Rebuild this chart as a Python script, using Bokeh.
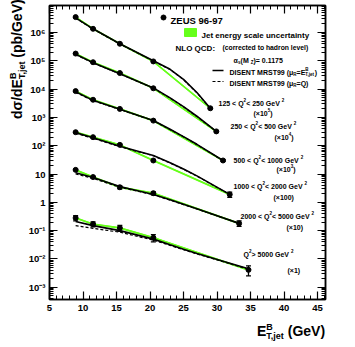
import math
import numpy as np
from bokeh.plotting import figure
from bokeh.layouts import column
from bokeh.models import (Range1d, LinearAxis, LogAxis, Label, CustomJSTickFormatter, Div,
                          SingleIntervalTicker, LogTicker, ColumnDataSource, Whisker, TeeHead)
from bokeh.embed import file_html
from bokeh.resources import INLINE

# ---------------- data ----------------
q2_low = [125, 250, 500, 1000, 2000, 5000]
q2_high = [250, 500, 1000, 2000, 5000, None]
scale_exp = [5, 4, 3, 2, 1, 0]

et_s1 = [8.9, 11.5, 15.5, 20.5, 29.0]
et_s2 = [8.9, 11.5, 15.5, 20.5, 29.9]
et_s3 = [8.9, 11.5, 15.5, 20.5, 30.9]
et_s4 = [8.9, 11.5, 15.5, 20.5, 31.9]
et_s5 = [8.9, 11.5, 15.5, 20.5, 33.3]
et_s6 = [8.9, 11.5, 15.5, 20.5, 34.7]

xsec_s1 = [35.0, 13.5, 4.0, 0.95, 0.021]
xsec_s2 = [18.0, 8.9, 3.7, 1.07, 0.032]
xsec_s3 = [8.5, 4.2, 2.0, 0.77, 0.030]
xsec_s4 = [3.0, 2.0, 1.07, 0.30, 0.019]
xsec_s5 = [1.4, 0.78, 0.34, 0.21, 0.018]
xsec_s6 = [0.28, 0.17, 0.124, 0.056, 0.0041]

err_s1 = [0.7, 0.3, 0.1, 0.03, 0.001]
err_s2 = [0.4, 0.2, 0.1, 0.03, 0.002]
err_s3 = [0.2, 0.1, 0.05, 0.02, 0.002]
err_s4 = [0.08, 0.06, 0.04, 0.015, 0.004]
err_s5 = [0.06, 0.05, 0.04, 0.025, 0.004]
err_s6 = [0.06, 0.035, 0.03, 0.016, 0.0016]

jes_frac = [0.08, 0.08, 0.08, 0.08, 0.08, 0.08]

th_et_s1 = [8.9, 11.5, 15.5, 20.5, 23.0, 25.0, 27.0, 29.0]
th_et_s2 = [8.9, 11.5, 15.5, 20.5, 23.0, 25.0, 27.0, 29.9]
th_et_s3 = [8.9, 11.5, 15.5, 20.5, 23.0, 25.0, 27.0, 30.9]
th_et_s4 = [8.9, 11.5, 15.5, 20.5, 23.0, 25.0, 27.0, 31.9]
th_et_s5 = [8.9, 11.5, 15.5, 20.5, 23.0, 25.0, 27.0, 33.3]
th_et_s6 = [8.9, 11.5, 15.5, 20.5, 23.0, 25.0, 27.0, 34.7]

disent_et_s1 = [33.0, 13.5, 4.0, 1.0, 0.50, 0.22, 0.076, 0.021]
disent_et_s2 = [17.0, 8.6, 3.5, 1.1, 0.49, 0.24, 0.11, 0.032]
disent_et_s3 = [8.0, 4.0, 1.95, 0.78, 0.38, 0.21, 0.112, 0.030]
disent_et_s4 = [2.9, 1.9, 0.95, 0.45, 0.25, 0.15, 0.086, 0.019]
disent_et_s5 = [1.1, 0.75, 0.36, 0.19, 0.122, 0.085, 0.059, 0.018]
disent_et_s6 = [0.21, 0.15, 0.10, 0.05, 0.0315, 0.022, 0.0155, 0.0045]

disent_q_s1 = [32.0, 13.2, 3.9, 0.98, 0.49, 0.215, 0.074, 0.0205]
disent_q_s2 = [16.5, 8.4, 3.45, 1.08, 0.48, 0.235, 0.107, 0.0315]
disent_q_s3 = [7.7, 3.9, 1.9, 0.76, 0.37, 0.205, 0.109, 0.0295]
disent_q_s4 = [2.75, 1.82, 0.92, 0.44, 0.245, 0.147, 0.084, 0.0188]
disent_q_s5 = [1.0, 0.70, 0.34, 0.185, 0.119, 0.083, 0.058, 0.018]
disent_q_s6 = [0.15, 0.12, 0.088, 0.046, 0.030, 0.021, 0.015, 0.0043]

x_tick_interval = 5

et_all = [et_s1, et_s2, et_s3, et_s4, et_s5, et_s6]
xsec_all = [xsec_s1, xsec_s2, xsec_s3, xsec_s4, xsec_s5, xsec_s6]
err_all = [err_s1, err_s2, err_s3, err_s4, err_s5, err_s6]
th_et_all = [th_et_s1, th_et_s2, th_et_s3, th_et_s4, th_et_s5, th_et_s6]
d_et_all = [disent_et_s1, disent_et_s2, disent_et_s3, disent_et_s4, disent_et_s5, disent_et_s6]
d_q_all = [disent_q_s1, disent_q_s2, disent_q_s3, disent_q_s4, disent_q_s5, disent_q_s6]

# ---------------- geometry (page pixels) ----------------
TOP_DIV = 1
FRAME_L, FRAME_T, FRAME_W, FRAME_H = 49, 5, 276, 294
X0, PXG = 5.0, 6.7
DEC, Y6 = 28.3, 32.0
x_end = X0 + FRAME_W / PXG
y_top = 10 ** (6 + (Y6 - FRAME_T) / DEC)
y_bot = 10 ** (6 - (FRAME_T + FRAME_H - Y6) / DEC)


def dx(px):
    return X0 + (px - FRAME_L) / PXG


def dy(py):
    return 10 ** (6 - (py - Y6) / DEC)


GREEN = "#66ff1a"
FONT = "Liberation Sans"

p = figure(frame_width=FRAME_W, frame_height=FRAME_H,
           x_range=Range1d(X0, x_end), y_range=Range1d(y_bot, y_top),
           y_axis_type="log", output_backend="svg", toolbar_location=None,
           min_border_left=FRAME_L, min_border_right=14, min_border_top=FRAME_T - TOP_DIV,
           min_border_bottom=28)
p.margin = 0
p.xgrid.visible = False
p.ygrid.visible = False
p.outline_line_color = "black"
p.outline_line_width = 1.5
p.background_fill_color = "white"
p.border_fill_color = None

ylab_code = """
const e = Math.round(Math.log10(tick));
if (e === 0) return '1';
if (e === 1) return '10';
const sup = {'-':'\u207b','0':'\u2070','1':'\u00b9','2':'\u00b2','3':'\u00b3','4':'\u2074','5':'\u2075','6':'\u2076','7':'\u2077','8':'\u2078','9':'\u2079'};
return '10' + String(e).split('').map(c => sup[c]).join('');
"""


def style_axis(ax, labels=True):
    ax.axis_line_width = 1.5
    ax.major_tick_in = 8
    ax.major_tick_out = 0
    ax.minor_tick_in = 4
    ax.minor_tick_out = 0
    ax.major_tick_line_width = 1.2
    ax.minor_tick_line_width = 1
    ax.major_label_text_font = FONT
    ax.major_label_text_font_style = "bold"
    ax.major_label_text_font_size = "9.5px"
    ax.major_label_text_color = "black"
    if not labels:
        ax.major_label_text_font_size = "0px"
        ax.major_label_standoff = 0


xa = p.xaxis[0]
xa.ticker = SingleIntervalTicker(interval=x_tick_interval, num_minor_ticks=5)
style_axis(xa)
xa.major_label_standoff = 5
ya = p.yaxis[0]
ya.ticker = LogTicker(num_minor_ticks=10)
ya.formatter = CustomJSTickFormatter(code=ylab_code)
style_axis(ya)
ya.major_label_standoff = 4

top_ax = LinearAxis(ticker=SingleIntervalTicker(interval=x_tick_interval, num_minor_ticks=5),
                    formatter=CustomJSTickFormatter(code="return '';"))
style_axis(top_ax, labels=False)
p.add_layout(top_ax, "above")
right_ax = LogAxis(ticker=LogTicker(num_minor_ticks=10), formatter=CustomJSTickFormatter(code="return '';"))
style_axis(right_ax, labels=False)
p.add_layout(right_ax, "right")

# ---------------- curves and data ----------------
for i in range(6):
    s = 10.0 ** scale_exp[i]
    x = np.array(et_all[i])
    y = np.array(xsec_all[i]) * s
    e = np.array(err_all[i]) * s
    p.varea(x=x, y1=y * (1 - jes_frac[i]), y2=y * (1 + jes_frac[i]), color=GREEN)
    p.line(x, y, color=GREEN, line_width=1.3)
    p.line(th_et_all[i], np.array(d_q_all[i]) * s, color="black", line_width=1.2, line_dash="3 2")
    p.line(th_et_all[i], np.array(d_et_all[i]) * s, color="black", line_width=1.6)
    src = ColumnDataSource(dict(x=x, lo=y - e, hi=y + e))
    p.add_layout(Whisker(source=src, base="x", lower="lo", upper="hi", line_color="black", line_width=1.3,
                         lower_head=TeeHead(size=5, line_width=1.3), upper_head=TeeHead(size=5, line_width=1.3)))
    p.scatter(x, y, size=5, color="black")

# ---------------- rich text helper (inside the frame) ----------------
W = {' ': .278, '(': .333, ')': .333, '<': .584, '>': .584, '=': .584, '.': .278, ',': .278, '-': .333,
     ':': .333, '/': .278, '×': .584, 'A': .722, 'B': .722, 'C': .722, 'D': .722, 'E': .667, 'G': .778,
     'I': .278, 'J': .556, 'L': .611, 'M': .833, 'N': .722, 'O': .778, 'Q': .778, 'R': .722, 'S': .667,
     'T': .611, 'U': .722, 'V': .667, 'Z': .611, 'a': .556, 'b': .611, 'c': .556, 'd': .611, 'e': .556,
     'g': .611, 'h': .611, 'i': .278, 'j': .278, 'l': .278, 'n': .611, 'o': .611, 'p': .611, 'r': .389,
     's': .556, 't': .333, 'u': .611, 'v': .556, 'y': .556, 'σ': .62, 'μ': .611, 'α': .65}


def tw(s, size):
    return sum(W.get(c, .556) for c in s) * size


def rich(px, py, segs, size):
    cur = 0.0
    for seg in segs:
        text, kind = seg[0], seg[1]
        adv = seg[2] if len(seg) > 2 else True
        if kind == "sup":
            fs, shift = size * 0.65, size * 0.42
        elif kind == "sub":
            fs, shift = size * 0.65, -size * 0.22
        else:
            fs, shift = size, 0.0
        p.add_layout(Label(x=dx(px + cur), y=dy(py - shift), text=text, text_font=FONT, text_font_style="bold",
                           text_font_size=f"{fs:.1f}px", text_color="black", text_align="left",
                           text_baseline="alphabetic"))
        if adv:
            cur += tw(text, fs)


# legend
p.scatter([dx(163)], [dy(17)], size=5, color="black")
rich(170, 20.4, [("ZEUS 96-97", "n")], 9.5)
p.quad(left=[dx(184)], right=[dx(196)], top=[dy(28)], bottom=[dy(36)], color=GREEN)
rich(201, 34.8, [("Jet energy scale uncertainty", "n")], 8)
rich(175, 47.8, [("NLO QCD:", "n")], 8)
rich(222, 47.4, [("(corrected to hadron level)", "n")], 6.8)
rich(233, 60.4, [("α", "n"), ("s", "sub"), (" (M", "n"), ("Z", "sub"), (")= 0.1175", "n")], 7)
p.line([dx(212), dx(223)], [dy(70), dy(70)], color="black", line_width=1.6)
rich(229, 72.4, [("DISENT MRST99 (μ", "n"), ("R", "sub"), ("=E", "n"), ("B", "sup", False),
                 ("T,jet", "sub"), (" )", "n")], 7)
p.line([dx(212), dx(223)], [dy(81), dy(81)], color="black", line_width=1.2, line_dash="3 2")
rich(229, 83.4, [("DISENT MRST99 (μ", "n"), ("R", "sub"), ("=Q)", "n")], 7)

# Q^2 bin labels
q2_pos = [(218, 100), (230, 123), (233, 157), (233, 183), (240, 213), (243, 251)]
sc_pos = [(253, 110), (274, 134), (276, 166), (273, 194), (286, 224), (287, 267)]
for i in range(6):
    lx, ly = q2_pos[i]
    if q2_high[i] is None:
        segs = [("Q", "n"), ("2", "sup"), (f" > {q2_low[i]} GeV", "n"), (" 2", "sup")]
    else:
        segs = [(f"{q2_low[i]} < Q", "n"), ("2", "sup"), (f" < {q2_high[i]} GeV", "n"), (" 2", "sup")]
    rich(lx, ly + 2.5, segs, 7)
    sx, sy = sc_pos[i]
    ex = scale_exp[i]
    if ex >= 3:
        rich(sx, sy + 2.5, [("(×10", "n"), (str(ex), "sup"), (")", "n")], 7)
    else:
        rich(sx, sy + 2.5, [(f"(×{10 ** ex})", "n")], 7)

# ---------------- axis titles (HTML, outside the frame) ----------------
base_css = ("position:absolute; white-space:nowrap; font-family:'Liberation Sans',Arial,sans-serif; "
            "font-weight:bold; font-size:14px; line-height:14px; color:black; z-index:10;")
sup_b = ('<span style="display:inline-block;width:0;position:relative;top:-6px;'
         'font-size:9px;line-height:9px">B</span>')
sub_tjet = '<span style="position:relative;top:3px;font-size:9px;line-height:9px">T,jet</span>'
y_title = (f'<div style="{base_css} left:10px; top:{120 - TOP_DIV}px; transform-origin:0 0; '
           f'transform:rotate(-90deg);">dσ/dE{sup_b}{sub_tjet} (pb/GeV)</div>')
x_title = (f'<div style="{base_css} left:257px; top:{325 - TOP_DIV}px;">E{sup_b}{sub_tjet} (GeV)</div>')
titles = Div(text=y_title + x_title, width=1, height=TOP_DIV, margin=0, styles={"overflow": "visible"})

layout = column(titles, p, spacing=0, margin=0)
open("out.html", "w").write(file_html(layout, INLINE))
